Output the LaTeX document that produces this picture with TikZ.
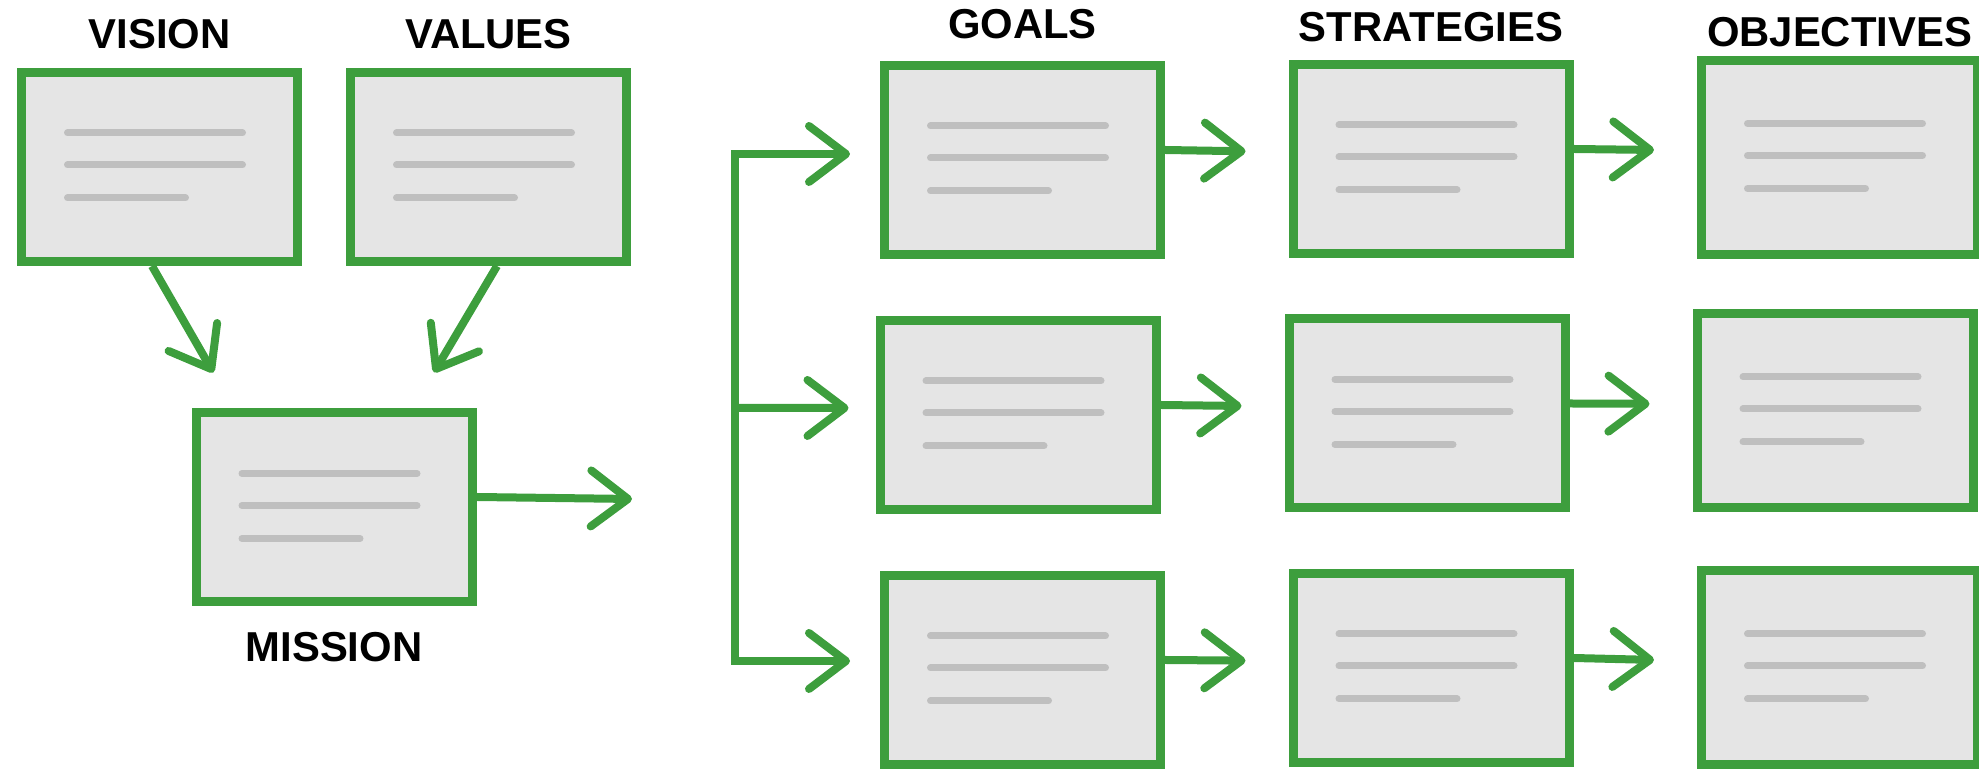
\documentclass[tikz,border=0pt]{standalone}
\usepackage{fontspec}
\setmainfont{Liberation Sans}
\usepackage{tikz}
\usetikzlibrary{positioning, arrows.meta}
\definecolor{leaf}{RGB}{61,158,61}
\definecolor{paper}{RGB}{229,229,229}
\definecolor{scribble}{RGB}{191,191,191}

\begin{document}
\begin{tikzpicture}[
  card/.style={rectangle, draw=leaf, line width=0.09cm, fill=paper,
               minimum width=2.76cm, minimum height=1.89cm, inner sep=0pt},
  tallcard/.style={card, minimum height=1.94cm},
  heading/.style={inner sep=0pt, font=\bfseries\fontsize{11.9}{14}\selectfont},
  arr/.style={draw=leaf, line width=0.08cm,
              -{Straight Barb[length=0.37cm, width=0.56cm, round]}},
  gapped/.style={shorten >=0.43cm},
  txt/.style={draw=scribble, line width=0.07cm, line cap=round}
]
  \useasboundingbox (0,0) rectangle (19.79,-7.69);

  \node[card] (vision)  at (1.595,-1.67) {};
  \node[card] (values)  at (4.885,-1.67) {};
  \node[card] (mission) at (3.34,-5.075) {};

  \node[card] (goal1) at (10.225,-1.60) {};
  \node[card] (goal2) at (10.18,-4.15) {};
  \node[card] (goal3) at (10.225,-6.70) {};

  \node[card] (strat1) at (14.31,-1.59) {};
  \node[card] (strat2) at (14.27,-4.135) {};
  \node[card] (strat3) at (14.31,-6.68) {};

  \node[tallcard] (obj1) at (18.395,-1.575) {};
  \node[tallcard] (obj2) at (18.35,-4.11) {};
  \node[tallcard] (obj3) at (18.395,-6.68) {};

  % placeholder text lines
  \foreach \n in {vision, values, mission, goal1, goal2, goal3,
                  strat1, strat2, strat3, obj1, obj2, obj3}
    \draw[txt, shift={(\n.center)}] (-0.92,0.34) -- (0.83,0.34)
      (-0.92,0.02) -- (0.83,0.02) (-0.92,-0.31) -- (0.26,-0.31);

  \node[heading, above=0.18cm of vision] {VISION};
  \node[heading, above=0.18cm of values] {VALUES};
  \node[heading, below=0.25cm of mission] {MISSION};
  \node[heading, above=0.21cm of goal1] {GOALS};
  \node[heading, above=0.17cm of strat1] {STRATEGIES};
  \node[heading, above=0.08cm of obj1] {OBJECTIVES};

  \draw[arr, shorten >=0.415cm] ([xshift=-0.075cm]vision.south)
    -- ([xshift=-1.0cm]mission.north);
  \draw[arr, shorten >=0.42cm] ([xshift=0.085cm]values.south)
    -- ([xshift=0.786cm]mission.north);

  \coordinate (fork) at (6.32,-4.99);
  \draw[arr] ([yshift=0.105cm]mission.east) -- (fork);

  \coordinate (bus) at (7.35,-4.08);
  \draw[arr, shorten >=0.3cm] (bus) |- ([yshift=0.06cm]goal1.west);
  \draw[arr, shorten >=0.27cm] (bus) -- ([yshift=0.07cm]goal2.west);
  \draw[arr, shorten >=0.3cm] (bus) |- ([yshift=0.09cm]goal3.west);

  \foreach \a/\b in {goal1/strat1, goal2/strat2, goal3/strat3,
                     strat1/obj1, strat2/obj2, strat3/obj3}
    \draw[arr, gapped] ([yshift=0.1cm]\a.east) -- ([yshift=0.07cm]\b.west);
\end{tikzpicture}
\end{document}
